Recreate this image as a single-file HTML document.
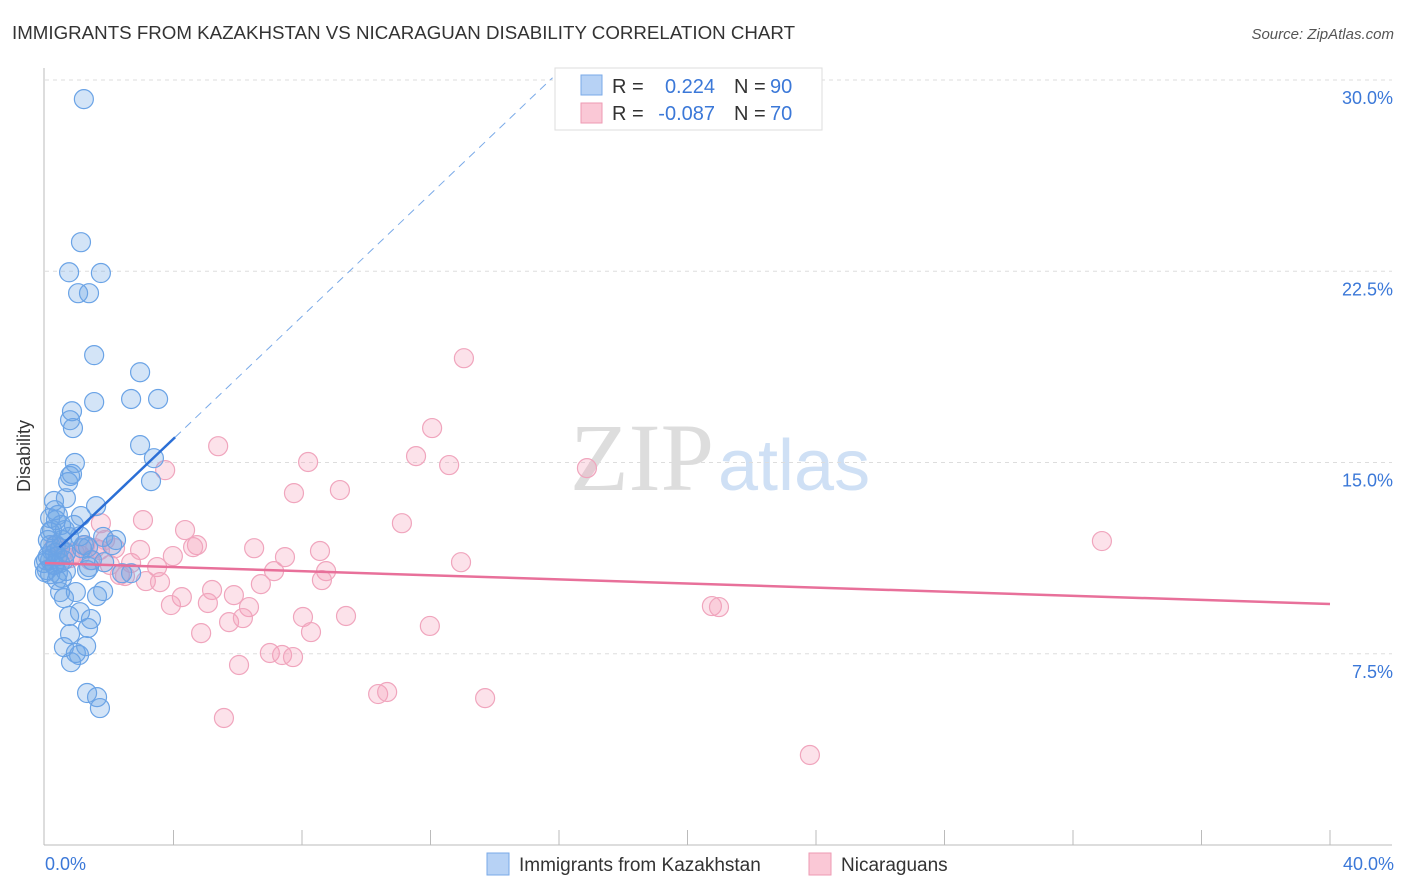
<!DOCTYPE html>
<html><head><meta charset="utf-8"><style>
body{margin:0;background:#fff;font-family:"Liberation Sans",sans-serif;}
svg{display:block}
</style></head><body>
<svg id="chart" width="1406" height="892">
<text x="12" y="39" font-size="18" fill="#333" textLength="783" lengthAdjust="spacingAndGlyphs">IMMIGRANTS FROM KAZAKHSTAN VS NICARAGUAN DISABILITY CORRELATION CHART</text>
<text x="1394" y="39" font-size="15" fill="#555" font-style="italic" text-anchor="end">Source: ZipAtlas.com</text>
<text x="714" y="490" font-size="96" fill="#ddd" text-anchor="end" font-family="Liberation Serif">ZIP</text>
<text x="718" y="490" font-size="72" fill="#cfe0f5">atlas</text>
<g id="grid"></g>
<line x1="44" y1="68" x2="44" y2="845" stroke="#bbb"/>
<line x1="44" y1="845" x2="1392" y2="845" stroke="#bbb"/>
<text x="30" y="456" font-size="18" fill="#333" text-anchor="middle" transform="rotate(-90 30 456)">Disability</text>
<text x="45" y="870" font-size="18" fill="#3b78d8">0.0%</text>
<text x="1394" y="870" font-size="18" fill="#3b78d8" text-anchor="end">40.0%</text>
<g id="pts"></g>
<g id="lines"></g>
<g>
<rect x="555" y="68" width="267" height="62" fill="#fff" stroke="#ddd"/>
<rect x="581" y="75" width="21" height="20" fill="#b7d2f5" stroke="#7aaae8"/>
<rect x="581" y="103" width="21" height="20" fill="#fac8d6" stroke="#ee9ab3"/>
<text x="612" y="93" font-size="20" fill="#333">R =</text><text x="715" y="93" font-size="20" fill="#3b78d8" text-anchor="end">0.224</text>
<text x="734" y="93" font-size="20" fill="#333">N =</text><text x="770" y="93" font-size="20" fill="#3b78d8">90</text>
<text x="612" y="120" font-size="20" fill="#333">R =</text><text x="715" y="120" font-size="20" fill="#3b78d8" text-anchor="end">-0.087</text>
<text x="734" y="120" font-size="20" fill="#333">N =</text><text x="770" y="120" font-size="20" fill="#3b78d8">70</text>
</g>
<g>
<rect x="487" y="853" width="22" height="22" fill="#b7d2f5" stroke="#7aaae8"/>
<text x="519" y="871" font-size="19" fill="#333">Immigrants from Kazakhstan</text>
<rect x="809" y="853" width="22" height="22" fill="#fac8d6" stroke="#ee9ab3"/>
<text x="841" y="871" font-size="19" fill="#333">Nicaraguans</text>
</g>
</svg>
<script>
const yTicks=[7.5,15,22.5,30];
const yTickLabels=["7.5%","15.0%","22.5%","30.0%"];
const xTicks=[4,8,12,16,20,24,28,32,36,40];
const bluePx=[[84,99],[81,242],[69,272],[101,273],[78,293],[89,293],[94,355],[140,372],[94,402],[158,399],[131,399],[72,411],[70,420],[73,428],[140,445],[154,458],[75,463],[72,474],[70,476],[151,481],[68,482],[66,498],[96,506],[81,516],[54,501],[55,510],[58,515],[61,525],[50,518],[65,530],[69,537],[48,540],[56,545],[60,548],[52,551],[84,545],[88,547],[103,537],[116,540],[104,562],[131,573],[50,560],[55,565],[47,570],[58,573],[62,578],[87,570],[89,567],[60,592],[76,592],[64,598],[103,591],[97,596],[80,612],[69,616],[91,619],[88,628],[70,634],[86,646],[64,647],[79,655],[76,653],[71,662],[87,693],[97,697],[100,708],[50,574],[45,572],[48,556],[55,553],[64,560],[57,580],[52,530],[74,525],[80,536],[122,573],[54,565],[50,545],[46,560],[60,563],[66,553],[82,548],[56,520],[62,540],[44,563],[92,560],[112,545],[66,571],[58,556],[50,532]];
const pinkPx=[[464,358],[432,428],[218,446],[416,456],[308,462],[449,465],[587,468],[165,470],[294,493],[340,490],[143,520],[402,523],[101,523],[185,530],[197,545],[193,547],[254,548],[320,551],[285,557],[173,556],[1102,541],[461,562],[115,548],[131,563],[157,567],[274,571],[326,571],[322,580],[146,581],[160,582],[120,575],[212,590],[261,584],[234,595],[182,597],[208,603],[171,605],[249,607],[303,617],[346,616],[229,622],[243,618],[201,633],[311,632],[430,626],[712,606],[719,607],[270,653],[282,655],[293,657],[239,665],[378,694],[387,692],[485,698],[224,718],[810,755],[64,551],[75,553],[80,555],[90,560],[85,545],[60,548],[100,550],[110,565],[125,576],[70,558],[95,548],[55,545],[105,540],[140,550]];
const blueX=bluePx.map(p=>+((p[0]-45)/32.125).toFixed(2));
const blueY=bluePx.map(p=>+((845-p[1])/25.507).toFixed(2));
const pinkX=pinkPx.map(p=>+((p[0]-45)/32.125).toFixed(2));
const pinkY=pinkPx.map(p=>+((845-p[1])/25.507).toFixed(2));
const blueTrend=[11.13,1.2];
const pinkTrend=[11.06,9.45];
const X=v=>45+v/40*1285, Y=v=>845-v/30*765;
const NS="http://www.w3.org/2000/svg";
function mk(t,a,p){const e=document.createElementNS(NS,t);for(const k in a)e.setAttribute(k,a[k]);p.appendChild(e);return e;}
const grid=document.getElementById('grid');
yTicks.forEach((t,i)=>{
 const l=mk('line',{x1:45,x2:1392,y1:Y(t),y2:Y(t),stroke:'#ddd','stroke-dasharray':'4,4'},grid);
 
 
 const tx=mk('text',{x:1393,y:Y(t)+24,'font-size':18,fill:'#3b78d8','text-anchor':'end'},grid);
 tx.textContent=yTickLabels[i];
 
 
});
xTicks.forEach(t=>{
 const l=mk('line',{x1:X(t),x2:X(t),y1:830,y2:845,stroke:'#bbb'},grid);
 
 
});
const pts=document.getElementById('pts');
pinkX.forEach((x,i)=>{
 const c=mk('circle',{cx:X(x),cy:Y(pinkY[i]),r:9.5,fill:'rgba(245,160,185,0.3)',stroke:'#f0a5bd','stroke-width':1.2},pts);
 
 
});
blueX.forEach((x,i)=>{
 const c=mk('circle',{cx:X(x),cy:Y(blueY[i]),r:9.5,fill:'rgba(110,165,230,0.3)',stroke:'#6aa3e6','stroke-width':1.2},pts);
 
 
});
const lines=document.getElementById('lines');
const bx1=0.45,bx2=4.05,bx3=15.8;
const bl=mk('line',{x1:X(bx1),y1:Y(blueTrend[0]+blueTrend[1]*bx1),x2:X(bx2),y2:Y(blueTrend[0]+blueTrend[1]*bx2),stroke:'#2b6fd6','stroke-width':2.5},lines);


const bd=mk('line',{x1:X(bx2),y1:Y(blueTrend[0]+blueTrend[1]*bx2),x2:X(bx3),y2:Y(blueTrend[0]+blueTrend[1]*bx3),stroke:'#7aaae8','stroke-width':1,'stroke-dasharray':'8,6'},lines);


const pl=mk('line',{x1:X(0),y1:Y(pinkTrend[0]),x2:X(40),y2:Y(pinkTrend[1]),stroke:'#e8709a','stroke-width':2.5},lines);


</script>
</body></html>
